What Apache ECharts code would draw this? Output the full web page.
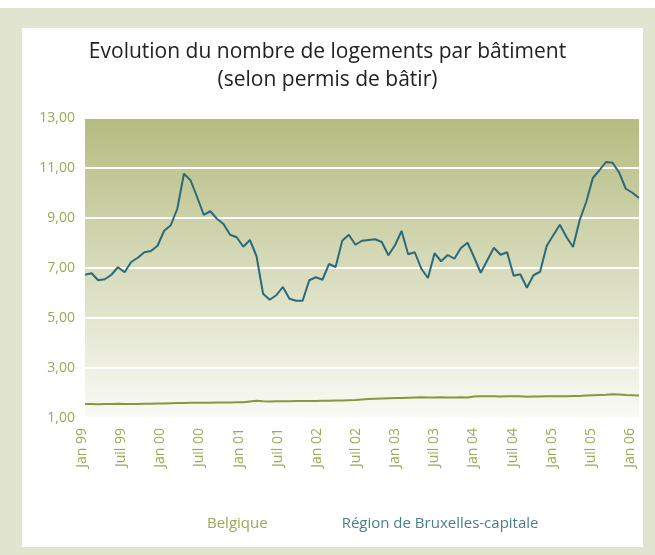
<!DOCTYPE html>
<html><head><meta charset="utf-8">
<script src="https://cdn.jsdelivr.net/npm/echarts@6.0.0/dist/echarts.min.js"></script>
<style>
html,body{margin:0;padding:0;background:#fff;}
#frame{position:absolute;left:0;top:8px;width:655px;height:547px;background:#e1e4cf;}
#inner{position:absolute;left:22px;top:28px;width:621px;height:519px;background:#fff;}
#c{position:absolute;left:0;top:0;width:655px;height:555px;}
</style>
</head><body>
<div id="frame"></div><div id="inner"></div><div id="c"></div>
<script>
const titleText = "Evolution du nombre de logements par bâtiment\n(selon permis de bâtir)";
const tickLabels = ['Jan 99','Juil 99','Jan 00','Juil 00','Jan 01','Juil 01','Jan 02','Juil 02','Jan 03','Juil 03','Jan 04','Juil 04','Jan 05','Juil 05','Jan 06'];
const seriesNames = ['Belgique', 'Région de Bruxelles-capitale'];
const belgique = [1.56,1.56,1.55,1.56,1.56,1.57,1.56,1.56,1.56,1.57,
  1.57,1.58,1.58,1.59,1.60,1.60,1.61,1.61,1.61,1.61,
  1.62,1.62,1.62,1.63,1.63,1.66,1.69,1.67,1.66,1.67,
  1.67,1.67,1.68,1.68,1.68,1.68,1.69,1.69,1.70,1.70,
  1.71,1.72,1.74,1.76,1.77,1.78,1.79,1.80,1.80,1.81,
  1.82,1.83,1.82,1.82,1.83,1.82,1.82,1.83,1.82,1.86,
  1.87,1.87,1.87,1.86,1.87,1.87,1.87,1.85,1.86,1.86,
  1.87,1.87,1.87,1.87,1.88,1.88,1.90,1.91,1.92,1.93,
  1.95,1.94,1.92,1.91,1.90];
const bruxelles = [6.73,6.79,6.51,6.55,6.73,7.03,6.83,7.24,7.41,7.63,7.68,7.89,8.49,8.71,9.37,
  10.77,10.51,9.84,9.13,9.27,8.97,8.76,8.33,8.23,7.85,8.12,7.48,5.97,5.73,
  5.91,6.24,5.77,5.69,5.69,6.51,6.63,6.53,7.16,7.04,8.09,8.33,7.93,8.09,8.12,
  8.15,8.04,7.51,7.91,8.48,7.55,7.63,6.97,6.60,7.59,7.27,7.52,7.37,7.80,
  8.01,7.43,6.81,7.31,7.81,7.53,7.63,6.69,6.75,6.21,6.71,6.85,7.88,8.31,8.73,
  8.24,7.84,8.91,9.64,10.60,10.91,11.24,11.21,10.81,10.17,10.01,9.80];
const months = bruxelles.map((_, i) => 'm' + i);

const FONT = 'Open Sans';
const olive = '#9aaa55';
const chart = echarts.init(document.getElementById('c'), null, {renderer: 'canvas'});
chart.setOption({
  animation: false,
  backgroundColor: 'transparent',
  title: {
    text: titleText, left: 'center', top: 33,
    textStyle: {fontFamily: FONT, fontSize: 21, fontWeight: 'normal', color: '#222', lineHeight: 28}
  },
  legend: {
    left: 196, top: 511, itemWidth: 0, itemHeight: 0, itemGap: 68,
    data: [
      {name: seriesNames[0], textStyle: {color: olive}},
      {name: seriesNames[1], textStyle: {color: '#4a7e89'}}
    ],
    textStyle: {fontFamily: FONT, fontSize: 15}
  },
  grid: [
    {left: 85, top: 118, width: 554, height: 300, show: true, borderWidth: 0,
     backgroundColor: new echarts.graphic.LinearGradient(0, 0, 0, 1, [
       {offset: 0, color: '#b4bc80'}, {offset: 0.5, color: '#d7dbbb'}, {offset: 1, color: '#fafaf6'}])},
    {left: 82, top: 118, width: 548, height: 300, show: false}
  ],
  xAxis: [
    {type: 'category', gridIndex: 0, data: months, boundaryGap: false,
     axisLine: {show: false}, axisTick: {show: false}, axisLabel: {show: false}, splitLine: {show: false}},
    {type: 'category', gridIndex: 1, data: tickLabels, boundaryGap: false,
     axisLine: {show: false}, axisTick: {show: false}, splitLine: {show: false},
     axisLabel: {rotate: 90, margin: 10, interval: 0, color: olive, fontFamily: FONT, fontSize: 14}}
  ],
  yAxis: [
    {type: 'value', gridIndex: 0, min: 1, max: 13, interval: 2,
     axisLine: {show: false}, axisTick: {show: false},
     splitLine: {show: true, lineStyle: {color: '#ffffff', width: 2}},
     axisLabel: {margin: 10, color: olive, fontFamily: FONT, fontSize: 14,
       formatter: v => v.toFixed(2).replace('.', ',')}},
    {type: 'value', gridIndex: 1, show: false, min: 1, max: 13}
  ],
  series: [
    {name: seriesNames[0], type: 'line', xAxisIndex: 0, yAxisIndex: 0, data: belgique,
     symbol: 'none', lineStyle: {color: '#86993a', width: 2}, itemStyle: {color: '#86993a'}},
    {name: seriesNames[1], type: 'line', xAxisIndex: 0, yAxisIndex: 0, data: bruxelles,
     symbol: 'none', lineStyle: {color: '#2c6a79', width: 2}, itemStyle: {color: '#2c6a79'}}
  ]
});
</script>
</body></html>
